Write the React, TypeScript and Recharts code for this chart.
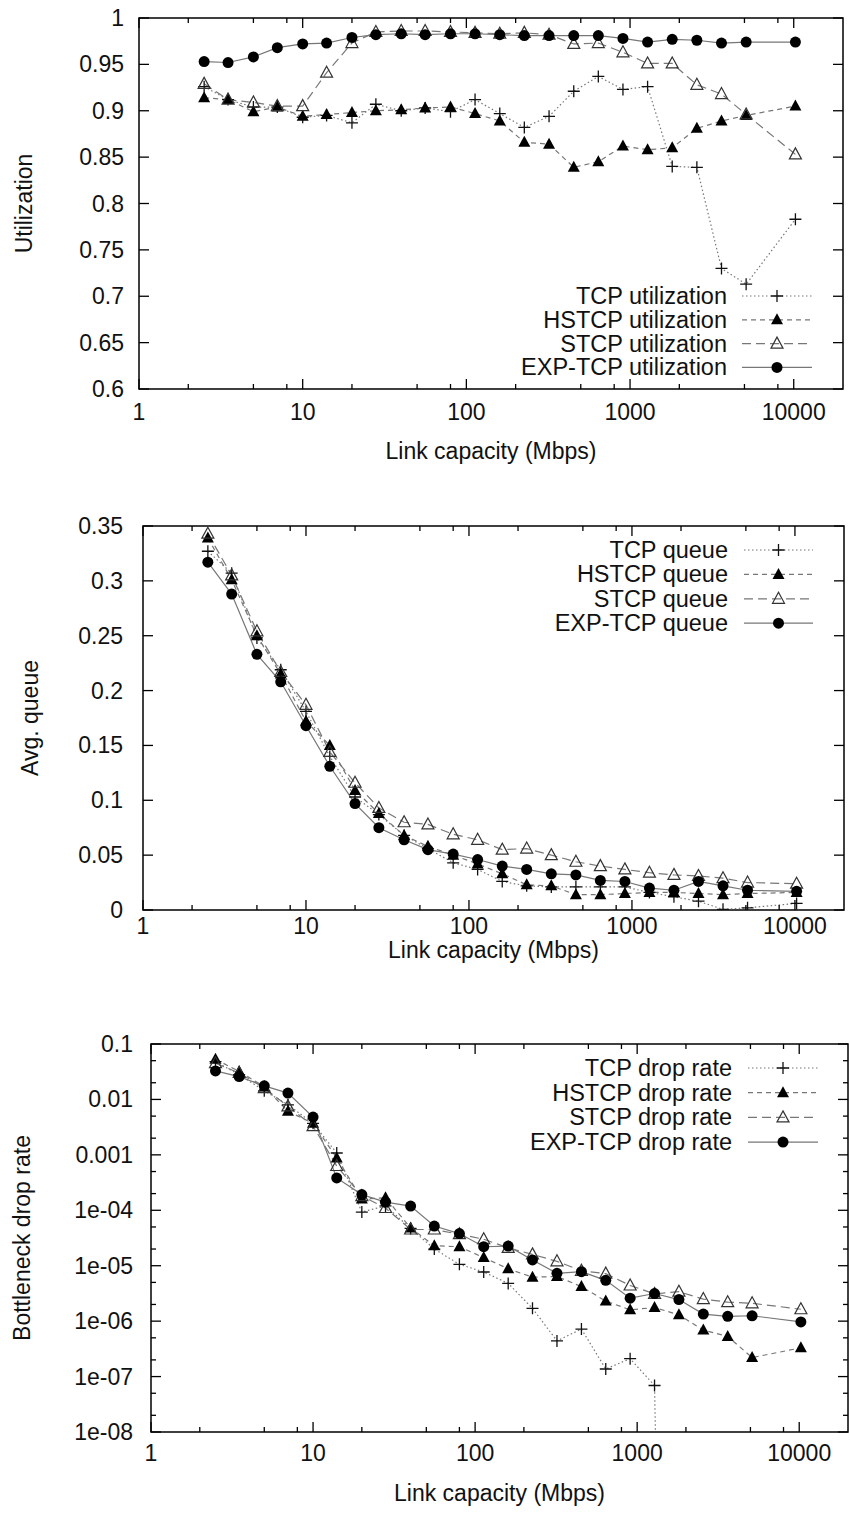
import { LineChart, Line, XAxis, YAxis, ReferenceArea, Legend } from "recharts"

// link capacities (Mbps), shared by all three plots
const capacities = [2.5, 3.5, 5, 7, 10, 14, 20, 28, 40, 56, 80, 113, 160, 226, 320, 453, 640, 905, 1280, 1810, 2560, 3620, 5120, 10240]

// utilization
const tcpUtil = [0.926, 0.912, 0.904, 0.904, 0.893, 0.895, 0.887, 0.907, 0.9, 0.903, 0.899, 0.912, 0.897, 0.882, 0.894, 0.921, 0.937, 0.923, 0.926, 0.84, 0.839, 0.73, 0.713, 0.783]
const hstcpUtil = [0.914, 0.912, 0.899, 0.904, 0.894, 0.896, 0.898, 0.9, 0.901, 0.903, 0.904, 0.897, 0.889, 0.866, 0.864, 0.839, 0.845, 0.862, 0.858, 0.86, 0.881, 0.889, 0.895, 0.905]
const stcpUtil = [0.929, 0.912, 0.909, 0.905, 0.905, 0.941, 0.973, 0.985, 0.986, 0.986, 0.985, 0.984, 0.983, 0.984, 0.982, 0.972, 0.973, 0.963, 0.951, 0.951, 0.928, 0.918, 0.896, 0.853]
const expUtil = [0.953, 0.952, 0.958, 0.968, 0.972, 0.973, 0.979, 0.982, 0.983, 0.982, 0.983, 0.983, 0.982, 0.981, 0.981, 0.981, 0.981, 0.978, 0.974, 0.977, 0.976, 0.973, 0.974, 0.974]

// average queue
const tcpQueue = [0.327, 0.307, 0.248, 0.219, 0.181, 0.14, 0.103, 0.087, 0.068, 0.056, 0.043, 0.037, 0.026, 0.022, 0.021, 0.021, 0.021, 0.021, 0.016, 0.012, 0.008, 0.0006, 0.002, 0.006]
const hstcpQueue = [0.339, 0.301, 0.25, 0.215, 0.172, 0.15, 0.109, 0.088, 0.068, 0.058, 0.05, 0.042, 0.033, 0.023, 0.022, 0.014, 0.014, 0.015, 0.016, 0.016, 0.015, 0.014, 0.015, 0.016]
const stcpQueue = [0.343, 0.305, 0.254, 0.217, 0.187, 0.144, 0.116, 0.093, 0.08, 0.078, 0.069, 0.064, 0.055, 0.056, 0.05, 0.044, 0.04, 0.037, 0.034, 0.032, 0.031, 0.029, 0.025, 0.024]
const expQueue = [0.317, 0.288, 0.233, 0.208, 0.168, 0.131, 0.097, 0.075, 0.064, 0.055, 0.051, 0.046, 0.04, 0.037, 0.033, 0.032, 0.027, 0.026, 0.02, 0.018, 0.026, 0.022, 0.018, 0.017]

// bottleneck drop rate (TCP falls to ~0 past 1280 Mbps)
const tcpDrop = [0.048, 0.028, 0.0143, 0.008, 0.0037, 0.00108, 9.3e-5, 1.2e-4, 4.7e-5, 2e-5, 1.06e-5, 7.7e-6, 4.8e-6, 1.7e-6, 4.4e-7, 7.2e-7, 1.37e-7, 2.1e-7, 6.9e-8, 1e-30, null, null, null, null]
const hstcpDrop = [0.053, 0.032, 0.017, 0.0061, 0.0037, 8.8e-4, 1.6e-4, 1.68e-4, 4.8e-5, 2.3e-5, 2.2e-5, 1.4e-5, 8.8e-6, 6.2e-6, 6.4e-6, 4.2e-6, 2.3e-6, 1.6e-6, 1.76e-6, 1.3e-6, 6.9e-7, 5.3e-7, 2.2e-7, 3.3e-7]
const stcpDrop = [0.045, 0.03, 0.016, 0.0075, 0.0033, 6.3e-4, 1.8e-4, 1.1e-4, 4.5e-5, 4.5e-5, 3.7e-5, 3e-5, 2.1e-5, 1.6e-5, 1.2e-5, 8.1e-6, 7.2e-6, 4.4e-6, 3.1e-6, 3.4e-6, 2.5e-6, 2.2e-6, 2.1e-6, 1.64e-6]
const expDrop = [0.0327, 0.0258, 0.0176, 0.013, 0.0048, 3.84e-4, 1.92e-4, 1.4e-4, 1.19e-4, 5.2e-5, 3.8e-5, 2.2e-5, 2.26e-5, 1.27e-5, 7.3e-6, 7.8e-6, 5.45e-6, 2.6e-6, 3.15e-6, 2.45e-6, 1.34e-6, 1.22e-6, 1.25e-6, 9.7e-7]

// axes
const xDomain = [1, 20000]
const xMajor = [1, 10, 100, 1000, 10000]
const xMinor = [2, 5, 8, 20, 50, 80, 200, 500, 800, 2000, 5000, 8000]
const utilTicks = [0.6, 0.65, 0.7, 0.75, 0.8, 0.85, 0.9, 0.95, 1]
const queueTicks = [0, 0.05, 0.1, 0.15, 0.2, 0.25, 0.3, 0.35]
const dropMajor = [1e-8, 1e-7, 1e-6, 1e-5, 1e-4, 0.001, 0.01, 0.1]
const dropLabels = ["1e-08", "1e-07", "1e-06", "1e-05", "1e-04", "0.001", "0.01", "0.1"]
const dropMinor = [2e-8, 5e-8, 2e-7, 5e-7, 2e-6, 5e-6, 2e-5, 5e-5, 2e-4, 5e-4, 0.002, 0.005, 0.02, 0.05]

const FONT = "'Liberation Sans', Arial, Helvetica, sans-serif"
const W = 850

let seriesStyle = [
  { key: "tcp", kind: "plus", dash: "1.5 2.5" },
  { key: "hstcp", kind: "tri", dash: "5 4" },
  { key: "stcp", kind: "otri", dash: "9 5" },
  { key: "exp", kind: "dot", dash: undefined },
]

let marker = (kind: string, cx: number, cy: number, key?: any) => {
  if (kind === "plus")
    return <path key={key} d={`M${cx - 6} ${cy}H${cx + 6}M${cx} ${cy - 6}V${cy + 6}`} stroke="#111" strokeWidth={1.3} fill="none" />
  if (kind === "tri")
    return <path key={key} d={`M${cx} ${cy - 6.5}L${cx + 6} ${cy + 4.5}L${cx - 6} ${cy + 4.5}Z`} fill="#000" />
  if (kind === "otri")
    return <path key={key} d={`M${cx} ${cy - 6.5}L${cx + 6} ${cy + 4.5}L${cx - 6} ${cy + 4.5}Z`} fill="none" stroke="#333" strokeWidth={1.2} />
  return <circle key={key} cx={cx} cy={cy} r={5.5} fill="#000" />
}

let LegendBox = ({ names, textRight, lineFrom, lineTo, gap }: any) => (
  <svg width={W} height={110} style={{ display: "block" }}>
    {seriesStyle.map((s, i) => {
      let y = 12 + i * gap
      return (
        <g key={s.key}>
          <text x={textRight} y={y} textAnchor="end" dominantBaseline="central" fontSize={23.5} fontFamily={FONT} fill="#111">
            {names[i]}
          </text>
          <line x1={lineFrom} x2={lineTo} y1={y} y2={y} stroke="#777" strokeWidth={1.2} strokeDasharray={s.dash} />
          {marker(s.kind, (lineFrom + lineTo) / 2, y)}
        </g>
      )
    })}
  </svg>
)

let XTick = ({ x, y, payload, plotTop, labelDy }: any) => {
  let v = payload.value
  let major = xMajor.includes(v)
  let len = major ? 10 : 5
  return (
    <g>
      <line x1={x} y1={y} x2={x} y2={y - len} stroke="#000" strokeWidth={1.3} />
      <line x1={x} y1={plotTop} x2={x} y2={plotTop + len} stroke="#000" strokeWidth={1.3} />
      {major && (
        <text x={x} y={y + labelDy} textAnchor="middle" dominantBaseline="central" fontSize={23} fontFamily={FONT} fill="#111">
          {String(v)}
        </text>
      )}
    </g>
  )
}

let YTick = ({ x, y, payload, plotRight, majors, labels, labelGap }: any) => {
  let v = payload.value
  let idx = majors.indexOf(v)
  let len = idx >= 0 ? 10 : 5
  return (
    <g>
      <line x1={x} y1={y} x2={x + len} y2={y} stroke="#000" strokeWidth={1.3} />
      <line x1={plotRight - len} y1={y} x2={plotRight} y2={y} stroke="#000" strokeWidth={1.3} />
      {idx >= 0 && (
        <text x={x - labelGap} y={y} textAnchor="end" dominantBaseline="central" fontSize={23} fontFamily={FONT} fill="#111">
          {labels ? labels[idx] : String(v)}
        </text>
      )}
    </g>
  )
}

let Plot = ({ cfg, series, names, yDomain, yScale, yMajor, yMinor, yLabels, yTitle, legend }: any) => {
  let data = capacities.map((cap, i) => ({
    cap,
    tcp: series[0][i],
    hstcp: series[1][i],
    stcp: series[2][i],
    exp: series[3][i],
  }))
  let plotRight = W - cfg.marginRight
  let plotTop = cfg.marginTop
  return (
    <div style={{ position: "absolute", left: 0, top: cfg.top, width: W, height: cfg.height }}>
      <LineChart width={W} height={cfg.height} data={data} margin={{ top: cfg.marginTop, right: cfg.marginRight, left: 0, bottom: 0 }}>
        <XAxis
          dataKey="cap"
          type="number"
          scale="log"
          domain={xDomain}
          allowDataOverflow
          ticks={[...xMajor, ...xMinor]}
          interval={0}
          tickSize={0}
          tickMargin={0}
          tickLine={false}
          axisLine={false}
          height={cfg.xHeight}
          tick={(p: any) => <XTick {...p} plotTop={plotTop} labelDy={cfg.tickDy} />}
          label={(p: any) => {
            let vb = p.viewBox
            return (
              <text x={vb.x + vb.width / 2} y={vb.y + cfg.titleDy} textAnchor="middle" dominantBaseline="central" fontSize={23} fontFamily={FONT} fill="#111">
                Link capacity (Mbps)
              </text>
            )
          }}
        />
        <YAxis
          type="number"
          scale={yScale}
          domain={yDomain}
          allowDataOverflow
          ticks={[...yMajor, ...yMinor]}
          interval={0}
          tickSize={0}
          tickMargin={0}
          tickLine={false}
          axisLine={false}
          width={cfg.yWidth}
          tick={(p: any) => <YTick {...p} plotRight={plotRight} majors={yMajor} labels={yLabels} labelGap={cfg.labelGap} />}
          label={(p: any) => {
            let vb = p.viewBox
            let cy = vb.y + vb.height / 2
            return (
              <text x={cfg.titleX} y={cy} transform={`rotate(-90 ${cfg.titleX} ${cy})`} textAnchor="middle" dominantBaseline="central" fontSize={23} fontFamily={FONT} fill="#111">
                {yTitle}
              </text>
            )
          }}
        />
        <ReferenceArea x1={xDomain[0]} x2={xDomain[1]} y1={yDomain[0]} y2={yDomain[1]} fill="none" stroke="#000" strokeWidth={1.5} fillOpacity={0} />
        {seriesStyle.map((s) => (
          <Line
            key={s.key}
            dataKey={s.key}
            type="linear"
            stroke="#777"
            strokeWidth={1.2}
            strokeDasharray={s.dash}
            isAnimationActive={false}
            activeDot={false}
            dot={(p: any) => (p.cx == null || p.cy == null ? <g key={p.index} /> : marker(s.kind, p.cx, p.cy, p.index))}
          />
        ))}
        <Legend
          layout="vertical"
          align="center"
          verticalAlign="middle"
          wrapperStyle={{ left: 0, top: legend.top, width: W, height: 110 }}
          content={() => <LegendBox names={names} {...legend} />}
        />
      </LineChart>
    </div>
  )
}

export default function App() {
  return (
    <div style={{ position: "absolute", left: 0, top: 0, width: W, height: 1513, background: "#fff" }}>
      <Plot
        cfg={{ top: 0, height: 480, marginTop: 18, marginRight: 7, yWidth: 139, xHeight: 91, tickDy: 23, titleDy: 62, titleX: 24, labelGap: 15 }}
        series={[tcpUtil, hstcpUtil, stcpUtil, expUtil]}
        names={["TCP utilization", "HSTCP utilization", "STCP utilization", "EXP-TCP utilization"]}
        yDomain={[0.6, 1]}
        yScale="linear"
        yMajor={utilTicks}
        yMinor={[]}
        yTitle="Utilization"
        legend={{ top: 284, textRight: 727, lineFrom: 742, lineTo: 812, gap: 23.8 }}
      />
      <Plot
        cfg={{ top: 490, height: 490, marginTop: 36, marginRight: 6, yWidth: 143, xHeight: 70, tickDy: 16, titleDy: 40, titleX: 30, labelGap: 20 }}
        series={[tcpQueue, hstcpQueue, stcpQueue, expQueue]}
        names={["TCP queue", "HSTCP queue", "STCP queue", "EXP-TCP queue"]}
        yDomain={[0, 0.35]}
        yScale="linear"
        yMajor={queueTicks}
        yMinor={[]}
        yTitle="Avg. queue"
        legend={{ top: 48, textRight: 728, lineFrom: 744, lineTo: 813, gap: 24.4 }}
      />
      <Plot
        cfg={{ top: 1000, height: 513, marginTop: 44, marginRight: 2, yWidth: 151, xHeight: 81, tickDy: 21, titleDy: 61, titleX: 22, labelGap: 18 }}
        series={[tcpDrop, hstcpDrop, stcpDrop, expDrop]}
        names={["TCP drop rate", "HSTCP drop rate", "STCP drop rate", "EXP-TCP drop rate"]}
        yDomain={[1e-8, 0.1]}
        yScale="log"
        yMajor={dropMajor}
        yMinor={dropMinor}
        yLabels={dropLabels}
        yTitle="Bottleneck drop rate"
        legend={{ top: 56, textRight: 732, lineFrom: 748, lineTo: 818, gap: 24.7 }}
      />
    </div>
  )
}
